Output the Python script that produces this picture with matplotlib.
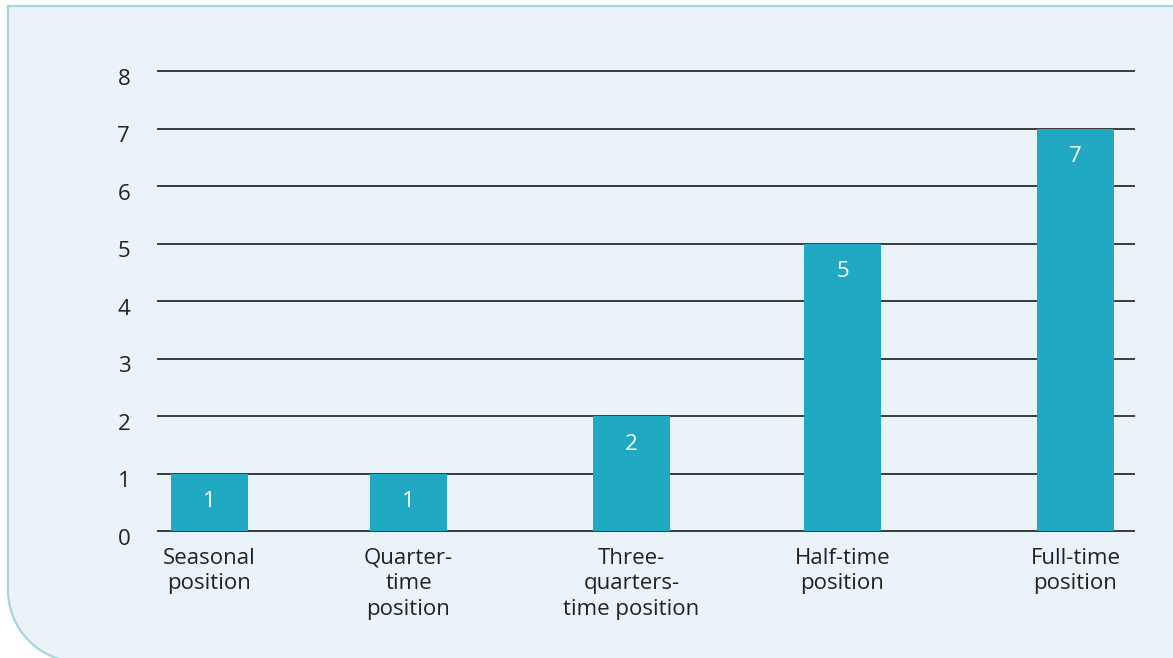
import matplotlib
matplotlib.use("Agg")
import matplotlib.pyplot as plt
from matplotlib.path import Path
from matplotlib.patches import PathPatch
from matplotlib.transforms import ScaledTranslation

# Data
categories = [
    "Seasonal\nposition",
    "Quarter-\ntime\nposition",
    "Three-\nquarters-\ntime position",
    "Half-time\nposition",
    "Full-time\nposition",
]
counts = [1, 1, 2, 5, 7]
y_ticks = [0, 1, 2, 3, 4, 5, 6, 7, 8]

# Layout (pixels)
W, H = 1173, 658
bar_centres = [51.5, 250.5, 473.5, 684.5, 917.5]   # within the plot area
bar_width = 77
BAR = "#21a8c3"
PANEL = "#eaf3f9"
EDGE = "#a5d5df"
GRID = "#3c3c3c"
TEXT = "#222222"

plt.rcParams["font.family"] = ["Open Sans", "DejaVu Sans"]

fig = plt.figure(figsize=(W / 100, H / 100), dpi=100)
fig.patch.set_facecolor("white")

# Background panel: square top-left corner, rounded bottom-left corner
x0, y0 = 8, 6          # left edge, top edge (pixels from top-left)
R = 72
right = W + 20
cy = H - 68
k = 0.5523
verts = [(right, y0), (x0, y0), (x0, cy),
         (x0, cy + k * R), (x0 + R - k * R, cy + R), (x0 + R, cy + R),
         (right, cy + R), (right, y0)]
codes = [Path.MOVETO, Path.LINETO, Path.LINETO,
         Path.CURVE4, Path.CURVE4, Path.CURVE4,
         Path.LINETO, Path.CLOSEPOLY]
verts_fig = [(vx / W, 1 - vy / H) for vx, vy in verts]
panel = PathPatch(Path(verts_fig, codes), transform=fig.transFigure,
                  facecolor=PANEL, edgecolor=EDGE, linewidth=1.6, zorder=-10)
fig.patches.append(panel)

# Plot area
ax_left, ax_right = 158, 1134
ax_top, ax_bottom = 71, 531
ax = fig.add_axes([ax_left / W, 1 - ax_bottom / H,
                   (ax_right - ax_left) / W, (ax_bottom - ax_top) / H])
ax.set_zorder(1)
ax.set_facecolor("none")
ax.set_xlim(0, ax_right - ax_left)
ax.set_ylim(0, 8)

for t in y_ticks:
    ax.axhline(t, color=GRID, linewidth=1.4, zorder=1, clip_on=False)

bars = ax.bar(bar_centres, counts, width=bar_width, color=BAR, zorder=2)

for b, v in zip(bars, counts):
    ax.annotate(str(v), (b.get_x() + b.get_width() / 2, v),
                xytext=(0, -28), textcoords="offset pixels",
                ha="center", va="center", color="white", fontsize=16,
                zorder=3)

for s in ax.spines.values():
    s.set_visible(False)

ax.set_yticks(y_ticks)
ax.set_yticklabels([str(t) for t in y_ticks], fontsize=16, color=TEXT)
ax.tick_params(axis="y", length=0, pad=20)
shift_down = ScaledTranslation(0, -4 / 72, fig.dpi_scale_trans)
for lbl in ax.get_yticklabels():
    lbl.set_transform(lbl.get_transform() + shift_down)

ax.set_xticks(bar_centres)
ax.set_xticklabels(categories, fontsize=16, color=TEXT, linespacing=1.3)
ax.tick_params(axis="x", length=0, pad=12)

fig.savefig("out.png", dpi=100, facecolor=fig.get_facecolor())
